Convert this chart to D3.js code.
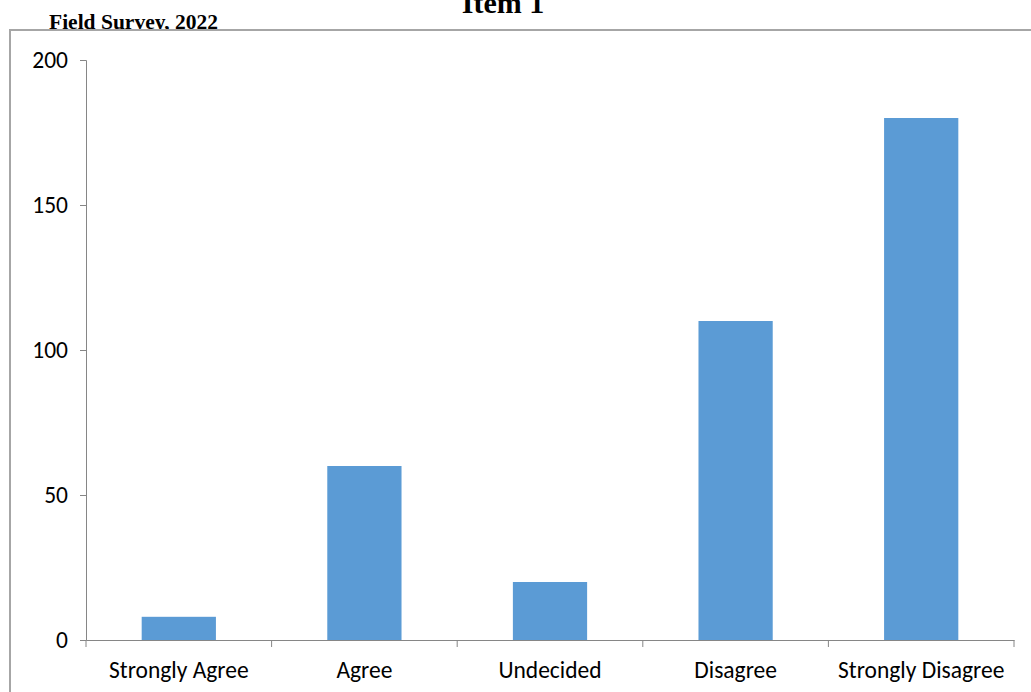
<!DOCTYPE html>
<html>
<head>
<meta charset="utf-8">
<script src="https://cdn.jsdelivr.net/npm/d3@7"></script>
<style>
  body { margin: 0; background: #fff; }
  svg { display: block; }
</style>
</head>
<body>
<div id="chart"></div>
<script>
// answers for item 1
var categories = ["Strongly Agree", "Agree", "Undecided", "Disagree", "Strongly Disagree"];
var counts = [8, 60, 20, 110, 180];
var yTicks = [0, 50, 100, 150, 200];

var w = 1031;
var h = 692;
var margin = { top: 60, right: 17, bottom: 52, left: 86 };

var svg = d3.select("#chart")
            .append("svg")
            .attr("width", w)
            .attr("height", h);

// source note sits behind the chart box
svg.append("text")
   .attr("x", 49)
   .attr("y", 29)
   .style("font-family", "'Liberation Serif', 'Times New Roman', serif")
   .style("font-weight", "bold")
   .style("font-size", "21.5px")
   .text("Field Survey, 2022");

svg.append("text")
   .attr("x", 503)
   .attr("y", 13)
   .attr("text-anchor", "middle")
   .style("font-family", "'Liberation Serif', 'Times New Roman', serif")
   .style("font-weight", "bold")
   .style("font-size", "30px")
   .text("Item 1");

// chart box
svg.append("rect")
   .attr("x", 10)
   .attr("y", 30)
   .attr("width", w + 20)
   .attr("height", h)
   .style("fill", "#fff")
   .style("stroke", "#a6a6a6")
   .style("stroke-width", 2);

var x = d3.scaleBand()
          .domain(categories)
          .range([margin.left, w - margin.right]);

var y = d3.scaleLinear()
          .domain([0, 200])
          .range([h - margin.bottom, margin.top]);

var barW = x.bandwidth() / 2.5;

svg.append("g").selectAll("rect")
   .data(categories)
   .enter()
   .append("rect")
   .attr("x", function(d) { return x(d) + (x.bandwidth() - barW) / 2; })
   .attr("y", function(d, i) { return y(counts[i]); })
   .attr("width", barW)
   .attr("height", function(d, i) { return y(0) - y(counts[i]); })
   .style("fill", "#5b9bd5");

var labelFont = "Carlito, Calibri, 'Open Sans', sans-serif";

// y axis
var yAxis = svg.append("g")
               .attr("transform", "translate(" + margin.left + ",0)")
               .call(d3.axisLeft(y).tickValues(yTicks).tickSize(6).tickPadding(12));
yAxis.select(".domain").style("stroke", "#868686");
yAxis.selectAll("line").style("stroke", "#868686");
yAxis.selectAll("text")
     .style("font-family", labelFont)
     .style("font-size", "23.5px")
     .style("fill", "#000");

// x axis, ticks on category boundaries
var xAxis = svg.append("g")
               .attr("transform", "translate(0," + y(0) + ")")
               .call(d3.axisBottom(x).tickSize(0).tickPadding(21));
xAxis.select(".domain").style("stroke", "#868686");
xAxis.selectAll("text")
     .style("font-family", labelFont)
     .style("font-size", "23.5px")
     .style("fill", "#000");

var bounds = categories.map(function(d) { return x(d); }).concat([x.range()[1]]);
xAxis.selectAll(".bound")
     .data(bounds)
     .enter()
     .append("line")
     .attr("class", "bound")
     .attr("x1", function(d) { return d; })
     .attr("x2", function(d) { return d; })
     .attr("y1", 0)
     .attr("y2", 7)
     .style("stroke", "#868686");
</script>
</body>
</html>
